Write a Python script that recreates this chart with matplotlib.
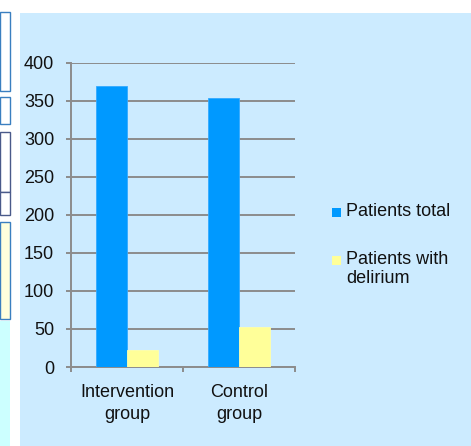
import matplotlib.pyplot as plt
from matplotlib.patches import Rectangle
import numpy as np

categories = ["Intervention\ngroup", "Control\ngroup"]
series_names = ["Patients total", "Patients with\ndelirium"]
patients_total = [370, 353]
patients_delirium = [22, 52]
y_ticks = [0, 50, 100, 150, 200, 250, 300, 350, 400]

colors = ["#0099FF", "#FFFF99"]
bg = "#CCEBFF"
grid_col = "#8C8C8C"

plt.rcParams["font.family"] = ["Liberation Sans", "DejaVu Sans"]

W, H = 471, 446
fig = plt.figure(figsize=(W / 100, H / 100), dpi=100, facecolor="white")

def px(x0, y0, x1, y1):
    # pixel box -> figure fraction rectangle
    return (x0 / W, 1 - y1 / H, (x1 - x0) / W, (y1 - y0) / H)

# background panel
x, y, w, h = px(20, 13, 471, 446)
fig.patches.append(Rectangle((x, y), w, h, transform=fig.transFigure,
                             facecolor=bg, edgecolor="none", zorder=-2))

# bits of neighbouring slides on the left edge
side_boxes = [
    ((0, 12, 10, 91), "white", "#3A7FC0"),
    ((0, 97, 10, 124), "white", "#3A7FC0"),
    ((0, 132, 10, 192), "white", "#4A5A8A"),
    ((0, 192, 10, 215), "white", "#4A5A8A"),
    ((0, 222, 10, 319), "#FFFFDD", "#3A7FC0"),
    ((0, 321, 10, 446), "#CCFFFF", "none"),
]
for box, fc, ec in side_boxes:
    x, y, w, h = px(*box)
    fig.patches.append(Rectangle((x, y), w, h, transform=fig.transFigure,
                                 facecolor=fc, edgecolor=ec, linewidth=1, zorder=-1))

ax = fig.add_axes(px(71, 62.7, 295, 367))
ax.set_facecolor("none")
ax.set_zorder(5)

xpos = np.arange(len(categories))
bw = 0.28
ax.bar(xpos - bw / 2, patients_total, bw, color=colors[0], edgecolor="#33AAFF",
       linewidth=0.6, zorder=3)
ax.bar(xpos + bw / 2, patients_delirium, bw, color=colors[1], edgecolor="#FFFFAA",
       linewidth=0.6, zorder=3)

ax.set_xlim(-0.5, len(categories) - 0.5)
ax.set_ylim(0, 400)
ax.set_yticks(y_ticks)
ax.yaxis.grid(True, color=grid_col, linewidth=1.4, zorder=1)
ax.set_axisbelow(True)

ax.set_xticks(xpos)
ax.set_xticklabels(categories, fontsize=13, color="#111111", linespacing=1.4)
ax.set_xticks(np.arange(-0.5, len(categories)), minor=True)
ax.tick_params(axis="x", which="major", length=0, pad=12)
ax.tick_params(axis="x", which="minor", length=3.6, width=1.4, color=grid_col)
ax.tick_params(axis="y", length=3.6, width=1.4, color=grid_col, labelsize=13,
               labelcolor="#111111", pad=8.5)

for s in ["top", "right"]:
    ax.spines[s].set_visible(False)
for s in ["left", "bottom"]:
    ax.spines[s].set_color(grid_col)
    ax.spines[s].set_linewidth(1.4)

# legend drawn by hand so the square sits on the first text line
leg_y = [212, 260]
for name, col, ly in zip(series_names, colors, leg_y):
    x, y, w, h = px(332, ly - 4.5, 341, ly + 4.5)
    fig.patches.append(Rectangle((x, y), w, h, transform=fig.transFigure,
                                 facecolor=col, edgecolor="none", zorder=2))
    fig.text(346 / W, 1 - (ly - 9.5) / H, name, fontsize=13, color="#111111",
             va="top", ha="left", linespacing=1.2)

fig.savefig("out.png", dpi=100, facecolor="white")
